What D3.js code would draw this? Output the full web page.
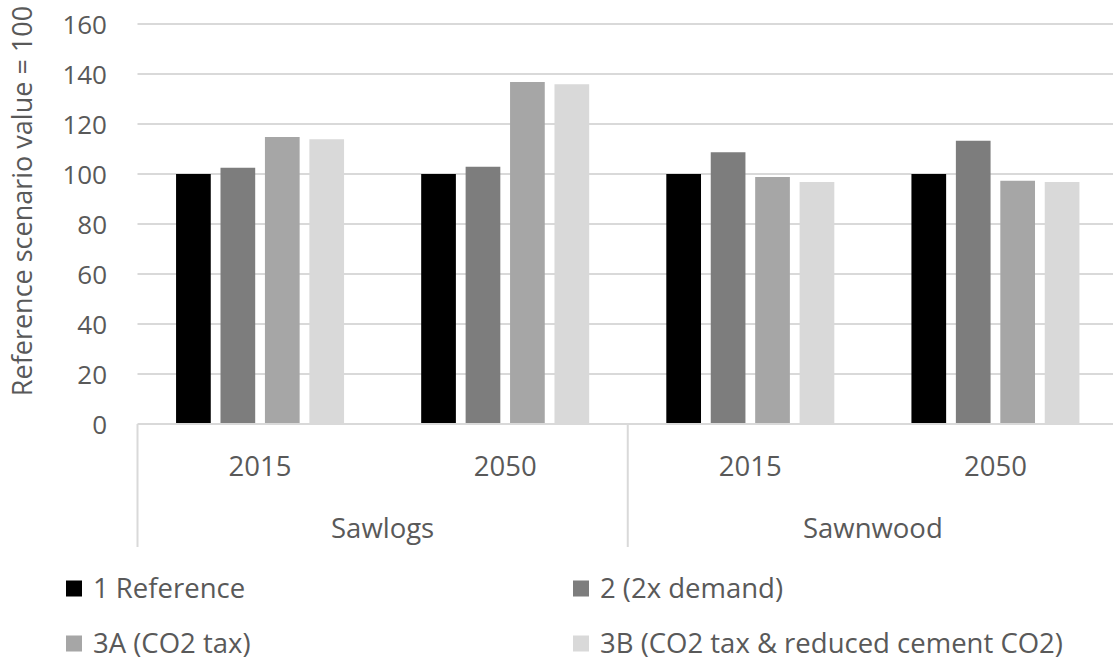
<!DOCTYPE html>
<html>
<head>
<meta charset="utf-8">
<script src="https://cdn.jsdelivr.net/npm/d3@7"></script>
<style>
  html, body { margin: 0; padding: 0; background: #fff; }
  svg { display: block; font-family: "Open Sans", "Noto Sans", sans-serif; }
</style>
</head>
<body>
<svg id="chart" width="1113" height="662"></svg>
<script>
// Index values (reference scenario = 100) per product and year
const products = ["Sawlogs", "Sawnwood"];
const years = ["2015", "2050"];
const scenarios = ["1 Reference", "2 (2x demand)", "3A (CO2 tax)", "3B (CO2 tax & reduced cement CO2)"];
const sawlogs2015 = [100, 102.5, 114.8, 113.9];
const sawlogs2050 = [100, 102.9, 136.8, 135.9];
const sawnwood2015 = [100, 108.7, 98.8, 96.8];
const sawnwood2050 = [100, 113.3, 97.3, 96.8];
const yTicks = [0, 20, 40, 60, 80, 100, 120, 140, 160];
const yTitle = "Reference scenario value = 100";

const colors = ["#000000", "#7d7d7d", "#a6a6a6", "#d9d9d9"];

const groups = [
  { product: "Sawlogs", year: "2015", values: sawlogs2015 },
  { product: "Sawlogs", year: "2050", values: sawlogs2050 },
  { product: "Sawnwood", year: "2015", values: sawnwood2015 },
  { product: "Sawnwood", year: "2050", values: sawnwood2050 }
];
groups.forEach(g => g.key = g.product + " " + g.year);

const svg = d3.select("#chart");
const plot = { left: 137.5, right: 1118, top: 24, bottom: 424 };
const textColor = "#595959";
const lineColor = "#d9d9d9";
const labelSize = 27.5;

const y = d3.scaleLinear().domain([0, 160]).range([plot.bottom, plot.top]);
const x0 = d3.scaleBand()
  .domain(groups.map(g => g.key))
  .range([plot.left, plot.right])
  .paddingInner(0.3146)
  .paddingOuter(0.1573);
const x1 = d3.scaleBand()
  .domain(scenarios)
  .range([0, x0.bandwidth()])
  .paddingInner(0.219);
const step0 = x0.step();

// Horizontal gridlines
svg.append("g")
  .selectAll("line")
  .data(yTicks.filter(t => t > 0))
  .join("line")
  .attr("x1", plot.left)
  .attr("x2", plot.right)
  .attr("y1", d => y(d))
  .attr("y2", d => y(d))
  .attr("stroke", lineColor)
  .attr("stroke-width", 2);

// Y axis tick labels
const yAxis = d3.axisLeft(y).tickValues(yTicks).tickSize(0).tickPadding(0);
const yg = svg.append("g")
  .attr("transform", `translate(107,0)`)
  .call(yAxis);
yg.select(".domain").remove();
yg.selectAll("text")
  .attr("fill", textColor)
  .attr("font-size", 26)
  .attr("font-family", "'Open Sans', 'Noto Sans', sans-serif")
  .attr("dy", "0.35em");

// Y axis title
svg.append("text")
  .attr("transform", "translate(32,201) rotate(-90)")
  .attr("text-anchor", "middle")
  .attr("fill", textColor)
  .attr("font-size", 27)
  .text(yTitle);

// Bars
const gBars = svg.append("g")
  .selectAll("g")
  .data(groups)
  .join("g")
  .attr("transform", d => `translate(${x0(d.key)},0)`);
gBars.selectAll("rect")
  .data(d => d.values.map((v, i) => ({ scenario: scenarios[i], value: v, i })))
  .join("rect")
  .attr("x", d => x1(d.scenario))
  .attr("width", x1.bandwidth())
  .attr("y", d => y(d.value))
  .attr("height", d => y(0) - y(d.value))
  .attr("fill", d => colors[d.i]);

// Category axis line
svg.append("line")
  .attr("x1", plot.left).attr("x2", plot.right)
  .attr("y1", plot.bottom).attr("y2", plot.bottom)
  .attr("stroke", lineColor).attr("stroke-width", 2);

// Product dividers below the axis
const dividerX = [plot.left, plot.left + 2 * step0, plot.right];
svg.append("g")
  .selectAll("line")
  .data(dividerX)
  .join("line")
  .attr("x1", d => d).attr("x2", d => d)
  .attr("y1", plot.bottom).attr("y2", 547)
  .attr("stroke", lineColor).attr("stroke-width", 2);

// Year labels
svg.append("g")
  .selectAll("text")
  .data(groups)
  .join("text")
  .attr("x", d => x0(d.key) + x0.bandwidth() / 2)
  .attr("y", 466)
  .attr("dy", "0.35em")
  .attr("text-anchor", "middle")
  .attr("fill", textColor)
  .attr("font-size", labelSize)
  .text(d => d.year);

// Product labels
svg.append("g")
  .selectAll("text")
  .data(products)
  .join("text")
  .attr("x", (d, i) => plot.left + step0 * (2 * i + 1))
  .attr("y", 528)
  .attr("dy", "0.35em")
  .attr("text-anchor", "middle")
  .attr("fill", textColor)
  .attr("font-size", labelSize)
  .text(d => d);

// Legend (two columns, two rows)
const legend = svg.append("g")
  .selectAll("g")
  .data(scenarios)
  .join("g")
  .attr("transform", (d, i) => `translate(${66 + (i % 2) * 507},${588 + Math.floor(i / 2) * 55})`);
legend.append("rect")
  .attr("x", 0).attr("y", -7.5)
  .attr("width", 16).attr("height", 16)
  .attr("fill", (d, i) => colors[i]);
legend.append("text")
  .attr("x", 27)
  .attr("y", 0)
  .attr("dy", "0.35em")
  .attr("fill", textColor)
  .attr("font-size", labelSize)
  .text(d => d);
</script>
</body>
</html>
